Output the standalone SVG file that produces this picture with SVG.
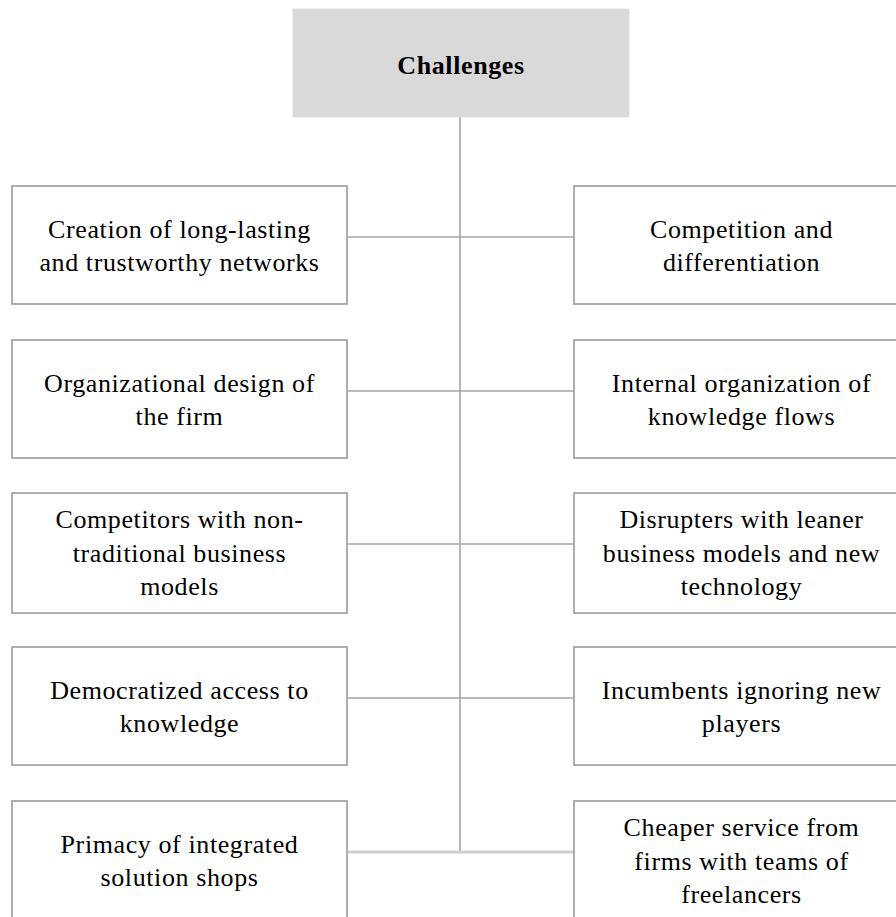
<svg xmlns="http://www.w3.org/2000/svg" width="896" height="917" viewBox="0 0 896 917">
<style>
.box{fill:#ffffff;stroke:#a6a6a6;stroke-width:1.8}
.top{fill:#d9d9d9;stroke:#e0e0e0;stroke-width:1}
.t{font-family:"Liberation Serif","Times New Roman",serif;font-size:26px;fill:#000;text-anchor:middle;letter-spacing:0.6px}
.tb{font-family:"Liberation Serif","Times New Roman",serif;font-size:26px;font-weight:bold;fill:#000;text-anchor:middle;letter-spacing:0.6px}
.c{stroke:#a6a6a6;stroke-width:1.6;fill:none}
</style>
<rect width="896" height="917" fill="#ffffff"/>
<g id="connectors">
<line class="c" x1="460" y1="117" x2="460" y2="852"/>
<line class="c" x1="347" y1="237" x2="574" y2="237"/>
<line class="c" x1="347" y1="391" x2="574" y2="391"/>
<line class="c" x1="347" y1="544" x2="574" y2="544"/>
<line class="c" x1="347" y1="698" x2="574" y2="698"/>
<line x1="347" y1="852" x2="574" y2="852" stroke="#cfcfcf" stroke-width="3"/>
</g>
<g id="challenges">
<rect class="top" x="293" y="9" width="336" height="108"/>
<text class="tb" x="461" y="74">Challenges</text>
</g>
<g id="left1">
<rect class="box" x="12" y="186" width="335" height="118"/>
<text class="t" x="179.5" y="238">Creation of long-lasting</text>
<text class="t" x="179.5" y="271">and trustworthy networks</text>
</g>
<g id="right1">
<rect class="box" x="574" y="186" width="335" height="118"/>
<text class="t" x="741.5" y="238">Competition and</text>
<text class="t" x="741.5" y="271">differentiation</text>
</g>
<g id="left2">
<rect class="box" x="12" y="340" width="335" height="118"/>
<text class="t" x="179.5" y="392">Organizational design of</text>
<text class="t" x="179.5" y="425">the firm</text>
</g>
<g id="right2">
<rect class="box" x="574" y="340" width="335" height="118"/>
<text class="t" x="741.5" y="392">Internal organization of</text>
<text class="t" x="741.5" y="425">knowledge flows</text>
</g>
<g id="left3">
<rect class="box" x="12" y="493" width="335" height="120"/>
<text class="t" x="179.5" y="528">Competitors with non-</text>
<text class="t" x="179.5" y="562">traditional business</text>
<text class="t" x="179.5" y="595">models</text>
</g>
<g id="right3">
<rect class="box" x="574" y="493" width="335" height="120"/>
<text class="t" x="741.5" y="528">Disrupters with leaner</text>
<text class="t" x="741.5" y="562">business models and new</text>
<text class="t" x="741.5" y="595">technology</text>
</g>
<g id="left4">
<rect class="box" x="12" y="647" width="335" height="118"/>
<text class="t" x="179.5" y="699">Democratized access to</text>
<text class="t" x="179.5" y="732">knowledge</text>
</g>
<g id="right4">
<rect class="box" x="574" y="647" width="335" height="118"/>
<text class="t" x="741.5" y="699">Incumbents ignoring new</text>
<text class="t" x="741.5" y="732">players</text>
</g>
<g id="left5">
<rect class="box" x="12" y="801" width="335" height="130"/>
<text class="t" x="179.5" y="853">Primacy of integrated</text>
<text class="t" x="179.5" y="886">solution shops</text>
</g>
<g id="right5">
<rect class="box" x="574" y="801" width="335" height="130"/>
<text class="t" x="741.5" y="836">Cheaper service from</text>
<text class="t" x="741.5" y="870">firms with teams of</text>
<text class="t" x="741.5" y="903">freelancers</text>
</g>
</svg>
